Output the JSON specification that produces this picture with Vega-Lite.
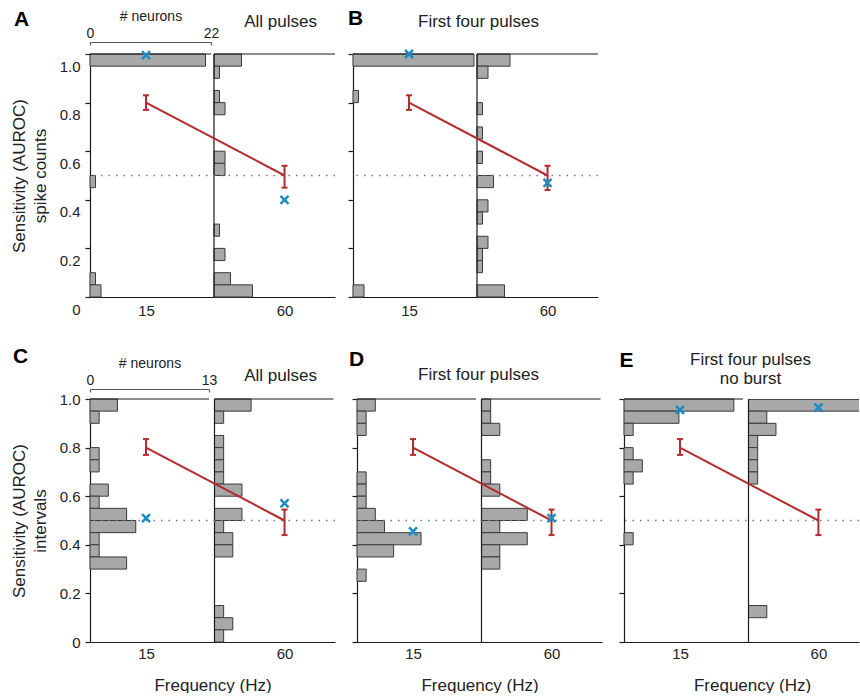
{
"$schema": "https://vega.github.io/schema/vega-lite/v6.json",
"padding": {"left": 10, "top": 7, "right": 0, "bottom": 0},
"config": {
 "view": {"stroke": null},
 "font": "Liberation Sans",
 "axis": {"grid": false, "domainColor": "#1a1a1a", "tickColor": "#1a1a1a", "labelColor": "#222222", "titleColor": "#222222", "labelFont": "Liberation Sans", "titleFont": "Liberation Sans", "titleFontWeight": "normal", "labelFlush": false, "labelOverlap": false, "domainWidth": 1.2, "tickWidth": 1.2}
},
"datasets": {
 "hist": [
  {"panel":"A","freq":15,"lo":1.0,"hi":1.05,"count":21},
  {"panel":"A","freq":15,"lo":0.5,"hi":0.55,"count":1},
  {"panel":"A","freq":15,"lo":0.1,"hi":0.15,"count":1},
  {"panel":"A","freq":15,"lo":0.05,"hi":0.1,"count":2},
  {"panel":"A","freq":60,"lo":1.0,"hi":1.05,"count":5},
  {"panel":"A","freq":60,"lo":0.95,"hi":1.0,"count":1},
  {"panel":"A","freq":60,"lo":0.85,"hi":0.9,"count":1},
  {"panel":"A","freq":60,"lo":0.8,"hi":0.85,"count":2},
  {"panel":"A","freq":60,"lo":0.6,"hi":0.65,"count":2},
  {"panel":"A","freq":60,"lo":0.55,"hi":0.6,"count":2},
  {"panel":"A","freq":60,"lo":0.3,"hi":0.35,"count":1},
  {"panel":"A","freq":60,"lo":0.2,"hi":0.25,"count":2},
  {"panel":"A","freq":60,"lo":0.1,"hi":0.15,"count":3},
  {"panel":"A","freq":60,"lo":0.05,"hi":0.1,"count":7},
  {"panel":"B","freq":15,"lo":1.0,"hi":1.05,"count":22},
  {"panel":"B","freq":15,"lo":0.85,"hi":0.9,"count":1},
  {"panel":"B","freq":15,"lo":0.05,"hi":0.1,"count":2},
  {"panel":"B","freq":60,"lo":1.0,"hi":1.05,"count":6},
  {"panel":"B","freq":60,"lo":0.95,"hi":1.0,"count":2},
  {"panel":"B","freq":60,"lo":0.8,"hi":0.85,"count":1},
  {"panel":"B","freq":60,"lo":0.7,"hi":0.75,"count":1},
  {"panel":"B","freq":60,"lo":0.6,"hi":0.65,"count":1},
  {"panel":"B","freq":60,"lo":0.5,"hi":0.55,"count":3},
  {"panel":"B","freq":60,"lo":0.4,"hi":0.45,"count":2},
  {"panel":"B","freq":60,"lo":0.35,"hi":0.4,"count":1},
  {"panel":"B","freq":60,"lo":0.25,"hi":0.3,"count":2},
  {"panel":"B","freq":60,"lo":0.2,"hi":0.25,"count":1},
  {"panel":"B","freq":60,"lo":0.15,"hi":0.2,"count":1},
  {"panel":"B","freq":60,"lo":0.05,"hi":0.1,"count":5},
  {"panel":"C","freq":15,"lo":0.95,"hi":1.0,"count":3},
  {"panel":"C","freq":15,"lo":0.9,"hi":0.95,"count":1},
  {"panel":"C","freq":15,"lo":0.75,"hi":0.8,"count":1},
  {"panel":"C","freq":15,"lo":0.7,"hi":0.75,"count":1},
  {"panel":"C","freq":15,"lo":0.6,"hi":0.65,"count":2},
  {"panel":"C","freq":15,"lo":0.55,"hi":0.6,"count":1},
  {"panel":"C","freq":15,"lo":0.5,"hi":0.55,"count":4},
  {"panel":"C","freq":15,"lo":0.45,"hi":0.5,"count":5},
  {"panel":"C","freq":15,"lo":0.4,"hi":0.45,"count":1},
  {"panel":"C","freq":15,"lo":0.35,"hi":0.4,"count":1},
  {"panel":"C","freq":15,"lo":0.3,"hi":0.35,"count":4},
  {"panel":"C","freq":60,"lo":0.95,"hi":1.0,"count":4},
  {"panel":"C","freq":60,"lo":0.9,"hi":0.95,"count":1},
  {"panel":"C","freq":60,"lo":0.8,"hi":0.85,"count":1},
  {"panel":"C","freq":60,"lo":0.75,"hi":0.8,"count":1},
  {"panel":"C","freq":60,"lo":0.7,"hi":0.75,"count":1},
  {"panel":"C","freq":60,"lo":0.65,"hi":0.7,"count":1},
  {"panel":"C","freq":60,"lo":0.6,"hi":0.65,"count":3},
  {"panel":"C","freq":60,"lo":0.5,"hi":0.55,"count":3},
  {"panel":"C","freq":60,"lo":0.45,"hi":0.5,"count":1},
  {"panel":"C","freq":60,"lo":0.4,"hi":0.45,"count":2},
  {"panel":"C","freq":60,"lo":0.35,"hi":0.4,"count":2},
  {"panel":"C","freq":60,"lo":0.1,"hi":0.15,"count":1},
  {"panel":"C","freq":60,"lo":0.05,"hi":0.1,"count":2},
  {"panel":"C","freq":60,"lo":0.0,"hi":0.05,"count":1},
  {"panel":"D","freq":15,"lo":0.95,"hi":1.0,"count":2},
  {"panel":"D","freq":15,"lo":0.9,"hi":0.95,"count":1},
  {"panel":"D","freq":15,"lo":0.85,"hi":0.9,"count":1},
  {"panel":"D","freq":15,"lo":0.65,"hi":0.7,"count":1},
  {"panel":"D","freq":15,"lo":0.6,"hi":0.65,"count":1},
  {"panel":"D","freq":15,"lo":0.55,"hi":0.6,"count":1},
  {"panel":"D","freq":15,"lo":0.5,"hi":0.55,"count":2},
  {"panel":"D","freq":15,"lo":0.45,"hi":0.5,"count":3},
  {"panel":"D","freq":15,"lo":0.4,"hi":0.45,"count":7},
  {"panel":"D","freq":15,"lo":0.35,"hi":0.4,"count":4},
  {"panel":"D","freq":15,"lo":0.25,"hi":0.3,"count":1},
  {"panel":"D","freq":60,"lo":0.95,"hi":1.0,"count":1},
  {"panel":"D","freq":60,"lo":0.9,"hi":0.95,"count":1},
  {"panel":"D","freq":60,"lo":0.85,"hi":0.9,"count":2},
  {"panel":"D","freq":60,"lo":0.7,"hi":0.75,"count":1},
  {"panel":"D","freq":60,"lo":0.65,"hi":0.7,"count":1},
  {"panel":"D","freq":60,"lo":0.6,"hi":0.65,"count":2},
  {"panel":"D","freq":60,"lo":0.5,"hi":0.55,"count":5},
  {"panel":"D","freq":60,"lo":0.45,"hi":0.5,"count":2},
  {"panel":"D","freq":60,"lo":0.4,"hi":0.45,"count":5},
  {"panel":"D","freq":60,"lo":0.35,"hi":0.4,"count":2},
  {"panel":"D","freq":60,"lo":0.3,"hi":0.35,"count":2},
  {"panel":"E","freq":15,"lo":0.95,"hi":1.0,"count":12},
  {"panel":"E","freq":15,"lo":0.9,"hi":0.95,"count":6},
  {"panel":"E","freq":15,"lo":0.85,"hi":0.9,"count":1},
  {"panel":"E","freq":15,"lo":0.75,"hi":0.8,"count":1},
  {"panel":"E","freq":15,"lo":0.7,"hi":0.75,"count":2},
  {"panel":"E","freq":15,"lo":0.65,"hi":0.7,"count":1},
  {"panel":"E","freq":15,"lo":0.4,"hi":0.45,"count":1},
  {"panel":"E","freq":60,"lo":0.95,"hi":1.0,"count":13},
  {"panel":"E","freq":60,"lo":0.9,"hi":0.95,"count":2},
  {"panel":"E","freq":60,"lo":0.85,"hi":0.9,"count":3},
  {"panel":"E","freq":60,"lo":0.8,"hi":0.85,"count":1},
  {"panel":"E","freq":60,"lo":0.75,"hi":0.8,"count":1},
  {"panel":"E","freq":60,"lo":0.7,"hi":0.75,"count":1},
  {"panel":"E","freq":60,"lo":0.65,"hi":0.7,"count":1},
  {"panel":"E","freq":60,"lo":0.1,"hi":0.15,"count":2}
 ],
 "means": [
  {"panel":"A","freq":15,"mean":0.85,"lo":0.82,"hi":0.88},
  {"panel":"A","freq":60,"mean":0.55,"lo":0.5,"hi":0.59},
  {"panel":"B","freq":15,"mean":0.85,"lo":0.82,"hi":0.88},
  {"panel":"B","freq":60,"mean":0.55,"lo":0.49,"hi":0.59},
  {"panel":"C","freq":15,"mean":0.8,"lo":0.77,"hi":0.835},
  {"panel":"C","freq":60,"mean":0.5,"lo":0.44,"hi":0.545},
  {"panel":"D","freq":15,"mean":0.8,"lo":0.77,"hi":0.835},
  {"panel":"D","freq":60,"mean":0.5,"lo":0.44,"hi":0.545},
  {"panel":"E","freq":15,"mean":0.8,"lo":0.77,"hi":0.835},
  {"panel":"E","freq":60,"mean":0.5,"lo":0.44,"hi":0.545}
 ],
 "peaks": [
  {"panel":"A","freq":15,"value":1.045},
  {"panel":"A","freq":60,"value":0.45},
  {"panel":"B","freq":15,"value":1.05},
  {"panel":"B","freq":60,"value":0.52},
  {"panel":"C","freq":15,"value":0.51},
  {"panel":"C","freq":60,"value":0.57},
  {"panel":"D","freq":15,"value":0.455},
  {"panel":"D","freq":60,"value":0.51},
  {"panel":"E","freq":15,"value":0.955},
  {"panel":"E","freq":60,"value":0.965}
 ]
},
"spacing": 27,
"vconcat": [
 {"hconcat": [
  {"width":245,"height":243,
   "resolve":{"scale":{"x":"independent"},"axis":{"x":"independent"}},
   "layer":[
    {"data":{"name":"hist"},"transform":[{"filter":"datum.panel=='A' && datum.freq==15"}],
     "mark":{"type":"rect","fill":"#a8a8a8","stroke":"#3a3a3a","strokeWidth":1},
     "encoding":{
      "x":{"field":"count","type":"quantitative","scale":{"domain":[0,22],"range":[0,121],"nice":false,"zero":false},
           "axis":{"orient":"top","values":[0,22],"offset":12,"tickSize":-3,"labelFontSize":14,"labelPadding":5,"title":"# neurons","titleFontSize":14,"titlePadding":3,"domainColor":"#555555","tickColor":"#555555"}},
      "x2":{"datum":0},
      "y":{"field":"lo","type":"quantitative","scale":{"domain":[0.05,1.05],"nice":false,"zero":false}},
      "y2":{"field":"hi"}}},
    {"data":{"name":"hist"},"transform":[{"filter":"datum.panel=='A' && datum.freq==60"}],
     "mark":{"type":"rect","fill":"#a8a8a8","stroke":"#3a3a3a","strokeWidth":1},
     "encoding":{
      "x":{"field":"count","type":"quantitative","scale":{"domain":[0,22],"range":[124,245],"nice":false,"zero":false},
           "axis":{"orient":"top","domain":false,"ticks":false,"labels":false,"title":"All pulses","titleFontSize":17,"titleX":190,"titleY":-33,"titleAlign":"center","titleBaseline":"middle","titleAngle":0}},
      "x2":{"datum":0},
      "y":{"field":"lo","type":"quantitative","scale":{"domain":[0.05,1.05],"nice":false,"zero":false}},
      "y2":{"field":"hi"}}},
    {"data":{"values":[{}]},"mark":{"type":"rule","color":"#1a1a1a","strokeWidth":1.2},
     "encoding":{"x":{"datum":0,"type":"quantitative","scale":{"domain":[0,22],"range":[124,245],"nice":false,"zero":false},"axis":null}}},
    {"data":{"values":[{}]},"mark":{"type":"rule","color":"#1a1a1a","strokeWidth":1.2},
     "encoding":{"x":{"datum":0,"type":"quantitative","scale":{"domain":[0,22],"range":[0,121],"nice":false,"zero":false},"axis":null},"x2":{"datum":22},
      "y":{"datum":1.05,"type":"quantitative","scale":{"domain":[0.05,1.05],"nice":false,"zero":false}}}},
    {"data":{"values":[{}]},"mark":{"type":"rule","color":"#1a1a1a","strokeWidth":1.2},
     "encoding":{"x":{"datum":0,"type":"quantitative","scale":{"domain":[0,22],"range":[124,245],"nice":false,"zero":false},"axis":null},"x2":{"datum":22},
      "y":{"datum":1.05,"type":"quantitative","scale":{"domain":[0.05,1.05],"nice":false,"zero":false}}}},
    {"data":{"values":[{}]},"mark":{"type":"rule","color":"#777777","strokeWidth":1.3,"strokeDash":[1.5,6]},
     "encoding":{"y":{"datum":0.55,"type":"quantitative","scale":{"domain":[0.05,1.05],"nice":false,"zero":false}}}},
    {"data":{"name":"means"},"transform":[{"filter":"datum.panel=='A'"}],
     "mark":{"type":"line","color":"#b22b2e","strokeWidth":2},
     "encoding":{
      "x":{"field":"freq","type":"quantitative","scale":{"domain":[-3.2,76.4],"nice":false,"zero":false},
           "axis":{"orient":"bottom","values":[15,60],"ticks":false,"labelFontSize":15,"labelPadding":6,"title":null}},
      "y":{"field":"mean","type":"quantitative","scale":{"domain":[0.05,1.05],"nice":false,"zero":false},
           "axis":{"orient":"left","values":[0.05,0.15,0.25,0.35,0.45,0.55,0.65,0.75,0.85,0.95,1.05],"labelExpr":"(round(datum.value*100)-5)%20==0 ? (datum.value<0.1 ? '0' : format(datum.value-0.05,'.1f')) : ''","labelOffset":12,"tickSize":5,"labelFontSize":15,"labelPadding":5,"title":["Sensitivity (AUROC)","spike counts"],"titleFontSize":17,"titlePadding":10,"titleLineHeight":21}}}},
    {"data":{"name":"means"},"transform":[{"filter":"datum.panel=='A'"}],
     "mark":{"type":"rule","color":"#b22b2e","strokeWidth":2},
     "encoding":{
      "x":{"field":"freq","type":"quantitative","scale":{"domain":[-3.2,76.4],"nice":false,"zero":false},
           "axis":{"orient":"top","domain":false,"ticks":false,"labels":false,"title":"A","titleFontSize":21,"titleFontWeight":"bold","titleColor":"#000000","titleX":-69,"titleY":-35,"titleAlign":"center","titleBaseline":"middle","titleAngle":0}},
      "y":{"field":"lo","type":"quantitative","scale":{"domain":[0.05,1.05],"nice":false,"zero":false}},
      "y2":{"field":"hi"}}},
    {"data":{"name":"means"},"transform":[{"filter":"datum.panel=='A'"}],
     "mark":{"type":"tick","orient":"horizontal","color":"#b22b2e","size":6,"thickness":2,"opacity":1},
     "encoding":{"x":{"field":"freq","type":"quantitative","scale":{"domain":[-3.2,76.4],"nice":false,"zero":false},"axis":null},
      "y":{"field":"lo","type":"quantitative","scale":{"domain":[0.05,1.05],"nice":false,"zero":false}}}},
    {"data":{"name":"means"},"transform":[{"filter":"datum.panel=='A'"}],
     "mark":{"type":"tick","orient":"horizontal","color":"#b22b2e","size":6,"thickness":2,"opacity":1},
     "encoding":{"x":{"field":"freq","type":"quantitative","scale":{"domain":[-3.2,76.4],"nice":false,"zero":false},"axis":null},
      "y":{"field":"hi","type":"quantitative","scale":{"domain":[0.05,1.05],"nice":false,"zero":false}}}},
    {"data":{"name":"peaks"},"transform":[{"filter":"datum.panel=='A'"}],
     "mark":{"type":"point","shape":"M-1,-1L1,1M-1,1L1,-1","size":64,"filled":false,"stroke":"#1a8cc6","strokeWidth":2.5,"opacity":1},
     "encoding":{"x":{"field":"freq","type":"quantitative","scale":{"domain":[-3.2,76.4],"nice":false,"zero":false},"axis":null},
      "y":{"field":"value","type":"quantitative","scale":{"domain":[0.05,1.05],"nice":false,"zero":false}}}}
   ]},
  {"width":245,"height":243,
   "resolve":{"scale":{"x":"independent"},"axis":{"x":"independent"}},
   "layer":[
    {"data":{"name":"hist"},"transform":[{"filter":"datum.panel=='B' && datum.freq==15"}],
     "mark":{"type":"rect","fill":"#a8a8a8","stroke":"#3a3a3a","strokeWidth":1},
     "encoding":{
      "x":{"field":"count","type":"quantitative","scale":{"domain":[0,22],"range":[0,121],"nice":false,"zero":false},"axis":null},
      "x2":{"datum":0},
      "y":{"field":"lo","type":"quantitative","scale":{"domain":[0.05,1.05],"nice":false,"zero":false}},
      "y2":{"field":"hi"}}},
    {"data":{"name":"hist"},"transform":[{"filter":"datum.panel=='B' && datum.freq==60"}],
     "mark":{"type":"rect","fill":"#a8a8a8","stroke":"#3a3a3a","strokeWidth":1},
     "encoding":{
      "x":{"field":"count","type":"quantitative","scale":{"domain":[0,22],"range":[124,245],"nice":false,"zero":false},
           "axis":{"orient":"top","domain":false,"ticks":false,"labels":false,"title":"First four pulses","titleFontSize":17,"titleX":125,"titleY":-33,"titleAlign":"center","titleBaseline":"middle","titleAngle":0}},
      "x2":{"datum":0},
      "y":{"field":"lo","type":"quantitative","scale":{"domain":[0.05,1.05],"nice":false,"zero":false}},
      "y2":{"field":"hi"}}},
    {"data":{"values":[{}]},"mark":{"type":"rule","color":"#1a1a1a","strokeWidth":1.2},
     "encoding":{"x":{"datum":0,"type":"quantitative","scale":{"domain":[0,22],"range":[124,245],"nice":false,"zero":false},"axis":null}}},
    {"data":{"values":[{}]},"mark":{"type":"rule","color":"#1a1a1a","strokeWidth":1.2},
     "encoding":{"x":{"datum":0,"type":"quantitative","scale":{"domain":[0,22],"range":[0,121],"nice":false,"zero":false},"axis":null},"x2":{"datum":22},
      "y":{"datum":1.05,"type":"quantitative","scale":{"domain":[0.05,1.05],"nice":false,"zero":false}}}},
    {"data":{"values":[{}]},"mark":{"type":"rule","color":"#1a1a1a","strokeWidth":1.2},
     "encoding":{"x":{"datum":0,"type":"quantitative","scale":{"domain":[0,22],"range":[124,245],"nice":false,"zero":false},"axis":null},"x2":{"datum":22},
      "y":{"datum":1.05,"type":"quantitative","scale":{"domain":[0.05,1.05],"nice":false,"zero":false}}}},
    {"data":{"values":[{}]},"mark":{"type":"rule","color":"#777777","strokeWidth":1.3,"strokeDash":[1.5,6]},
     "encoding":{"y":{"datum":0.55,"type":"quantitative","scale":{"domain":[0.05,1.05],"nice":false,"zero":false}}}},
    {"data":{"name":"means"},"transform":[{"filter":"datum.panel=='B'"}],
     "mark":{"type":"line","color":"#b22b2e","strokeWidth":2},
     "encoding":{
      "x":{"field":"freq","type":"quantitative","scale":{"domain":[-3.2,76.4],"nice":false,"zero":false},
           "axis":{"orient":"bottom","values":[15,60],"ticks":false,"labelFontSize":15,"labelPadding":6,"title":null}},
      "y":{"field":"mean","type":"quantitative","scale":{"domain":[0.05,1.05],"nice":false,"zero":false},
           "axis":{"orient":"left","values":[0.05,0.15,0.25,0.35,0.45,0.55,0.65,0.75,0.85,0.95,1.05],"labels":false,"tickSize":5,"title":null}}}},
    {"data":{"name":"means"},"transform":[{"filter":"datum.panel=='B'"}],
     "mark":{"type":"rule","color":"#b22b2e","strokeWidth":2},
     "encoding":{
      "x":{"field":"freq","type":"quantitative","scale":{"domain":[-3.2,76.4],"nice":false,"zero":false},
           "axis":{"orient":"top","domain":false,"ticks":false,"labels":false,"title":"B","titleFontSize":21,"titleFontWeight":"bold","titleColor":"#000000","titleX":2,"titleY":-36,"titleAlign":"center","titleBaseline":"middle","titleAngle":0}},
      "y":{"field":"lo","type":"quantitative","scale":{"domain":[0.05,1.05],"nice":false,"zero":false}},
      "y2":{"field":"hi"}}},
    {"data":{"name":"means"},"transform":[{"filter":"datum.panel=='B'"}],
     "mark":{"type":"tick","orient":"horizontal","color":"#b22b2e","size":6,"thickness":2,"opacity":1},
     "encoding":{"x":{"field":"freq","type":"quantitative","scale":{"domain":[-3.2,76.4],"nice":false,"zero":false},"axis":null},
      "y":{"field":"lo","type":"quantitative","scale":{"domain":[0.05,1.05],"nice":false,"zero":false}}}},
    {"data":{"name":"means"},"transform":[{"filter":"datum.panel=='B'"}],
     "mark":{"type":"tick","orient":"horizontal","color":"#b22b2e","size":6,"thickness":2,"opacity":1},
     "encoding":{"x":{"field":"freq","type":"quantitative","scale":{"domain":[-3.2,76.4],"nice":false,"zero":false},"axis":null},
      "y":{"field":"hi","type":"quantitative","scale":{"domain":[0.05,1.05],"nice":false,"zero":false}}}},
    {"data":{"name":"peaks"},"transform":[{"filter":"datum.panel=='B'"}],
     "mark":{"type":"point","shape":"M-1,-1L1,1M-1,1L1,-1","size":64,"filled":false,"stroke":"#1a8cc6","strokeWidth":2.5,"opacity":1},
     "encoding":{"x":{"field":"freq","type":"quantitative","scale":{"domain":[-3.2,76.4],"nice":false,"zero":false},"axis":null},
      "y":{"field":"value","type":"quantitative","scale":{"domain":[0.05,1.05],"nice":false,"zero":false}}}}
   ]}
 ], "spacing": 18, "bounds": "flush"},
 {"hconcat": [
  {"width":245,"height":243,
   "resolve":{"scale":{"x":"independent"},"axis":{"x":"independent"}},
   "layer":[
    {"data":{"name":"hist"},"transform":[{"filter":"datum.panel=='C' && datum.freq==15"}],
     "mark":{"type":"rect","fill":"#a8a8a8","stroke":"#3a3a3a","strokeWidth":1},
     "encoding":{
      "x":{"field":"count","type":"quantitative","scale":{"domain":[0,13],"range":[0,119],"nice":false,"zero":false},
           "axis":{"orient":"top","values":[0,13],"offset":10,"tickSize":-3,"labelFontSize":14,"labelPadding":5,"title":"# neurons","titleFontSize":14,"titlePadding":3,"domainColor":"#555555","tickColor":"#555555"}},
      "x2":{"datum":0},
      "y":{"field":"lo","type":"quantitative","scale":{"domain":[0,1],"nice":false,"zero":false}},
      "y2":{"field":"hi"}}},
    {"data":{"name":"hist"},"transform":[{"filter":"datum.panel=='C' && datum.freq==60"}],
     "mark":{"type":"rect","fill":"#a8a8a8","stroke":"#3a3a3a","strokeWidth":1},
     "encoding":{
      "x":{"field":"count","type":"quantitative","scale":{"domain":[0,13],"range":[124.5,243.5],"nice":false,"zero":false},
           "axis":{"orient":"top","domain":false,"ticks":false,"labels":false,"title":"All pulses","titleFontSize":17,"titleX":190,"titleY":-24,"titleAlign":"center","titleBaseline":"middle","titleAngle":0}},
      "x2":{"datum":0},
      "y":{"field":"lo","type":"quantitative","scale":{"domain":[0,1],"nice":false,"zero":false}},
      "y2":{"field":"hi"}}},
    {"data":{"values":[{}]},"mark":{"type":"rule","color":"#1a1a1a","strokeWidth":1.2},
     "encoding":{"x":{"datum":0,"type":"quantitative","scale":{"domain":[0,13],"range":[124.5,243.5],"nice":false,"zero":false},"axis":null}}},
    {"data":{"values":[{}]},"mark":{"type":"rule","color":"#1a1a1a","strokeWidth":1.2},
     "encoding":{"x":{"datum":0,"type":"quantitative","scale":{"domain":[0,13],"range":[0,119],"nice":false,"zero":false},"axis":null},"x2":{"datum":13},
      "y":{"datum":1,"type":"quantitative","scale":{"domain":[0,1],"nice":false,"zero":false}}}},
    {"data":{"values":[{}]},"mark":{"type":"rule","color":"#1a1a1a","strokeWidth":1.2},
     "encoding":{"x":{"datum":0,"type":"quantitative","scale":{"domain":[0,13],"range":[124.5,243.5],"nice":false,"zero":false},"axis":null},"x2":{"datum":13},
      "y":{"datum":1,"type":"quantitative","scale":{"domain":[0,1],"nice":false,"zero":false}}}},
    {"data":{"values":[{}]},"mark":{"type":"rule","color":"#777777","strokeWidth":1.3,"strokeDash":[1.5,6]},
     "encoding":{"y":{"datum":0.5,"type":"quantitative","scale":{"domain":[0,1],"nice":false,"zero":false}}}},
    {"data":{"name":"means"},"transform":[{"filter":"datum.panel=='C'"}],
     "mark":{"type":"line","color":"#b22b2e","strokeWidth":2},
     "encoding":{
      "x":{"field":"freq","type":"quantitative","scale":{"domain":[-3.2,76.4],"nice":false,"zero":false},
           "axis":{"orient":"bottom","values":[15,60],"ticks":false,"labelFontSize":15,"labelPadding":4,"title":"Frequency (Hz)","titleFontSize":17,"titlePadding":16}},
      "y":{"field":"mean","type":"quantitative","scale":{"domain":[0,1],"nice":false,"zero":false},
           "axis":{"orient":"left","values":[0,0.1,0.2,0.3,0.4,0.5,0.6,0.7,0.8,0.9,1],"labelExpr":"round(datum.value*10)%2==0 ? (datum.value==0 ? '0' : format(datum.value,'.1f')) : ''","tickSize":5,"labelFontSize":15,"labelPadding":5,"title":["Sensitivity (AUROC)","intervals"],"titleFontSize":17,"titlePadding":10,"titleLineHeight":21}}}},
    {"data":{"name":"means"},"transform":[{"filter":"datum.panel=='C'"}],
     "mark":{"type":"rule","color":"#b22b2e","strokeWidth":2},
     "encoding":{
      "x":{"field":"freq","type":"quantitative","scale":{"domain":[-3.2,76.4],"nice":false,"zero":false},
           "axis":{"orient":"top","domain":false,"ticks":false,"labels":false,"title":"C","titleFontSize":21,"titleFontWeight":"bold","titleColor":"#000000","titleX":-70,"titleY":-43,"titleAlign":"center","titleBaseline":"middle","titleAngle":0}},
      "y":{"field":"lo","type":"quantitative","scale":{"domain":[0,1],"nice":false,"zero":false}},
      "y2":{"field":"hi"}}},
    {"data":{"name":"means"},"transform":[{"filter":"datum.panel=='C'"}],
     "mark":{"type":"tick","orient":"horizontal","color":"#b22b2e","size":6,"thickness":2,"opacity":1},
     "encoding":{"x":{"field":"freq","type":"quantitative","scale":{"domain":[-3.2,76.4],"nice":false,"zero":false},"axis":null},
      "y":{"field":"lo","type":"quantitative","scale":{"domain":[0,1],"nice":false,"zero":false}}}},
    {"data":{"name":"means"},"transform":[{"filter":"datum.panel=='C'"}],
     "mark":{"type":"tick","orient":"horizontal","color":"#b22b2e","size":6,"thickness":2,"opacity":1},
     "encoding":{"x":{"field":"freq","type":"quantitative","scale":{"domain":[-3.2,76.4],"nice":false,"zero":false},"axis":null},
      "y":{"field":"hi","type":"quantitative","scale":{"domain":[0,1],"nice":false,"zero":false}}}},
    {"data":{"name":"peaks"},"transform":[{"filter":"datum.panel=='C'"}],
     "mark":{"type":"point","shape":"M-1,-1L1,1M-1,1L1,-1","size":64,"filled":false,"stroke":"#1a8cc6","strokeWidth":2.5,"opacity":1},
     "encoding":{"x":{"field":"freq","type":"quantitative","scale":{"domain":[-3.2,76.4],"nice":false,"zero":false},"axis":null},
      "y":{"field":"value","type":"quantitative","scale":{"domain":[0,1],"nice":false,"zero":false}}}}
   ]},
  {"width":245,"height":243,
   "resolve":{"scale":{"x":"independent"},"axis":{"x":"independent"}},
   "layer":[
    {"data":{"name":"hist"},"transform":[{"filter":"datum.panel=='D' && datum.freq==15"}],
     "mark":{"type":"rect","fill":"#a8a8a8","stroke":"#3a3a3a","strokeWidth":1},
     "encoding":{
      "x":{"field":"count","type":"quantitative","scale":{"domain":[0,13],"range":[0,119],"nice":false,"zero":false},"axis":null},
      "x2":{"datum":0},
      "y":{"field":"lo","type":"quantitative","scale":{"domain":[0,1],"nice":false,"zero":false}},
      "y2":{"field":"hi"}}},
    {"data":{"name":"hist"},"transform":[{"filter":"datum.panel=='D' && datum.freq==60"}],
     "mark":{"type":"rect","fill":"#a8a8a8","stroke":"#3a3a3a","strokeWidth":1},
     "encoding":{
      "x":{"field":"count","type":"quantitative","scale":{"domain":[0,13],"range":[124.5,243.5],"nice":false,"zero":false},
           "axis":{"orient":"top","domain":false,"ticks":false,"labels":false,"title":"First four pulses","titleFontSize":17,"titleX":121,"titleY":-25,"titleAlign":"center","titleBaseline":"middle","titleAngle":0}},
      "x2":{"datum":0},
      "y":{"field":"lo","type":"quantitative","scale":{"domain":[0,1],"nice":false,"zero":false}},
      "y2":{"field":"hi"}}},
    {"data":{"values":[{}]},"mark":{"type":"rule","color":"#1a1a1a","strokeWidth":1.2},
     "encoding":{"x":{"datum":0,"type":"quantitative","scale":{"domain":[0,13],"range":[124.5,243.5],"nice":false,"zero":false},"axis":null}}},
    {"data":{"values":[{}]},"mark":{"type":"rule","color":"#1a1a1a","strokeWidth":1.2},
     "encoding":{"x":{"datum":0,"type":"quantitative","scale":{"domain":[0,13],"range":[0,119],"nice":false,"zero":false},"axis":null},"x2":{"datum":13},
      "y":{"datum":1,"type":"quantitative","scale":{"domain":[0,1],"nice":false,"zero":false}}}},
    {"data":{"values":[{}]},"mark":{"type":"rule","color":"#1a1a1a","strokeWidth":1.2},
     "encoding":{"x":{"datum":0,"type":"quantitative","scale":{"domain":[0,13],"range":[124.5,243.5],"nice":false,"zero":false},"axis":null},"x2":{"datum":13},
      "y":{"datum":1,"type":"quantitative","scale":{"domain":[0,1],"nice":false,"zero":false}}}},
    {"data":{"values":[{}]},"mark":{"type":"rule","color":"#777777","strokeWidth":1.3,"strokeDash":[1.5,6]},
     "encoding":{"y":{"datum":0.5,"type":"quantitative","scale":{"domain":[0,1],"nice":false,"zero":false}}}},
    {"data":{"name":"means"},"transform":[{"filter":"datum.panel=='D'"}],
     "mark":{"type":"line","color":"#b22b2e","strokeWidth":2},
     "encoding":{
      "x":{"field":"freq","type":"quantitative","scale":{"domain":[-3.2,76.4],"nice":false,"zero":false},
           "axis":{"orient":"bottom","values":[15,60],"ticks":false,"labelFontSize":15,"labelPadding":4,"title":"Frequency (Hz)","titleFontSize":17,"titlePadding":16}},
      "y":{"field":"mean","type":"quantitative","scale":{"domain":[0,1],"nice":false,"zero":false},
           "axis":{"orient":"left","values":[0,0.1,0.2,0.3,0.4,0.5,0.6,0.7,0.8,0.9,1],"labels":false,"tickSize":5,"title":null}}}},
    {"data":{"name":"means"},"transform":[{"filter":"datum.panel=='D'"}],
     "mark":{"type":"rule","color":"#b22b2e","strokeWidth":2},
     "encoding":{
      "x":{"field":"freq","type":"quantitative","scale":{"domain":[-3.2,76.4],"nice":false,"zero":false},
           "axis":{"orient":"top","domain":false,"ticks":false,"labels":false,"title":"D","titleFontSize":21,"titleFontWeight":"bold","titleColor":"#000000","titleX":-1,"titleY":-40,"titleAlign":"center","titleBaseline":"middle","titleAngle":0}},
      "y":{"field":"lo","type":"quantitative","scale":{"domain":[0,1],"nice":false,"zero":false}},
      "y2":{"field":"hi"}}},
    {"data":{"name":"means"},"transform":[{"filter":"datum.panel=='D'"}],
     "mark":{"type":"tick","orient":"horizontal","color":"#b22b2e","size":6,"thickness":2,"opacity":1},
     "encoding":{"x":{"field":"freq","type":"quantitative","scale":{"domain":[-3.2,76.4],"nice":false,"zero":false},"axis":null},
      "y":{"field":"lo","type":"quantitative","scale":{"domain":[0,1],"nice":false,"zero":false}}}},
    {"data":{"name":"means"},"transform":[{"filter":"datum.panel=='D'"}],
     "mark":{"type":"tick","orient":"horizontal","color":"#b22b2e","size":6,"thickness":2,"opacity":1},
     "encoding":{"x":{"field":"freq","type":"quantitative","scale":{"domain":[-3.2,76.4],"nice":false,"zero":false},"axis":null},
      "y":{"field":"hi","type":"quantitative","scale":{"domain":[0,1],"nice":false,"zero":false}}}},
    {"data":{"name":"peaks"},"transform":[{"filter":"datum.panel=='D'"}],
     "mark":{"type":"point","shape":"M-1,-1L1,1M-1,1L1,-1","size":64,"filled":false,"stroke":"#1a8cc6","strokeWidth":2.5,"opacity":1},
     "encoding":{"x":{"field":"freq","type":"quantitative","scale":{"domain":[-3.2,76.4],"nice":false,"zero":false},"axis":null},
      "y":{"field":"value","type":"quantitative","scale":{"domain":[0,1],"nice":false,"zero":false}}}}
   ]},
  {"width":235,"height":243,
   "resolve":{"scale":{"x":"independent"},"axis":{"x":"independent"}},
   "layer":[
    {"data":{"name":"hist"},"transform":[{"filter":"datum.panel=='E' && datum.freq==15"}],
     "mark":{"type":"rect","fill":"#a8a8a8","stroke":"#3a3a3a","strokeWidth":1},
     "encoding":{
      "x":{"field":"count","type":"quantitative","scale":{"domain":[0,13],"range":[0,119],"nice":false,"zero":false},"axis":null},
      "x2":{"datum":0},
      "y":{"field":"lo","type":"quantitative","scale":{"domain":[0,1],"nice":false,"zero":false}},
      "y2":{"field":"hi"}}},
    {"data":{"name":"hist"},"transform":[{"filter":"datum.panel=='E' && datum.freq==60"}],
     "mark":{"type":"rect","fill":"#a8a8a8","stroke":"#3a3a3a","strokeWidth":1,"clip":true},
     "encoding":{
      "x":{"field":"count","type":"quantitative","scale":{"domain":[0,13],"range":[124.5,243.5],"nice":false,"zero":false},
           "axis":{"orient":"top","domain":false,"ticks":false,"labels":false,"title":["First four pulses","no burst"],"titleFontSize":17,"titleLineHeight":19,"titleX":126,"titleY":-40,"titleAlign":"center","titleBaseline":"middle","titleAngle":0}},
      "x2":{"datum":0},
      "y":{"field":"lo","type":"quantitative","scale":{"domain":[0,1],"nice":false,"zero":false}},
      "y2":{"field":"hi"}}},
    {"data":{"values":[{}]},"mark":{"type":"rule","color":"#1a1a1a","strokeWidth":1.2},
     "encoding":{"x":{"datum":0,"type":"quantitative","scale":{"domain":[0,13],"range":[124.5,243.5],"nice":false,"zero":false},"axis":null}}},
    {"data":{"values":[{}]},"mark":{"type":"rule","color":"#1a1a1a","strokeWidth":1.2},
     "encoding":{"x":{"datum":0,"type":"quantitative","scale":{"domain":[0,13],"range":[0,119],"nice":false,"zero":false},"axis":null},"x2":{"datum":13},
      "y":{"datum":1,"type":"quantitative","scale":{"domain":[0,1],"nice":false,"zero":false}}}},
    {"data":{"values":[{}]},"mark":{"type":"rule","color":"#1a1a1a","strokeWidth":1.2,"clip":true},
     "encoding":{"x":{"datum":0,"type":"quantitative","scale":{"domain":[0,13],"range":[124.5,243.5],"nice":false,"zero":false},"axis":null},"x2":{"datum":13},
      "y":{"datum":1,"type":"quantitative","scale":{"domain":[0,1],"nice":false,"zero":false}}}},
    {"data":{"values":[{}]},"mark":{"type":"rule","color":"#777777","strokeWidth":1.3,"strokeDash":[1.5,6]},
     "encoding":{"y":{"datum":0.5,"type":"quantitative","scale":{"domain":[0,1],"nice":false,"zero":false}}}},
    {"data":{"name":"means"},"transform":[{"filter":"datum.panel=='E'"}],
     "mark":{"type":"line","color":"#b22b2e","strokeWidth":2},
     "encoding":{
      "x":{"field":"freq","type":"quantitative","scale":{"domain":[-3.2,73.2],"nice":false,"zero":false},
           "axis":{"orient":"bottom","values":[15,60],"ticks":false,"labelFontSize":15,"labelPadding":4,"title":"Frequency (Hz)","titleFontSize":17,"titlePadding":16,"titleX":128}},
      "y":{"field":"mean","type":"quantitative","scale":{"domain":[0,1],"nice":false,"zero":false},
           "axis":{"orient":"left","values":[0,0.1,0.2,0.3,0.4,0.5,0.6,0.7,0.8,0.9,1],"labels":false,"tickSize":5,"title":null}}}},
    {"data":{"name":"means"},"transform":[{"filter":"datum.panel=='E'"}],
     "mark":{"type":"rule","color":"#b22b2e","strokeWidth":2},
     "encoding":{
      "x":{"field":"freq","type":"quantitative","scale":{"domain":[-3.2,73.2],"nice":false,"zero":false},
           "axis":{"orient":"top","domain":false,"ticks":false,"labels":false,"title":"E","titleFontSize":21,"titleFontWeight":"bold","titleColor":"#000000","titleX":2,"titleY":-39,"titleAlign":"center","titleBaseline":"middle","titleAngle":0}},
      "y":{"field":"lo","type":"quantitative","scale":{"domain":[0,1],"nice":false,"zero":false}},
      "y2":{"field":"hi"}}},
    {"data":{"name":"means"},"transform":[{"filter":"datum.panel=='E'"}],
     "mark":{"type":"tick","orient":"horizontal","color":"#b22b2e","size":6,"thickness":2,"opacity":1},
     "encoding":{"x":{"field":"freq","type":"quantitative","scale":{"domain":[-3.2,73.2],"nice":false,"zero":false},"axis":null},
      "y":{"field":"lo","type":"quantitative","scale":{"domain":[0,1],"nice":false,"zero":false}}}},
    {"data":{"name":"means"},"transform":[{"filter":"datum.panel=='E'"}],
     "mark":{"type":"tick","orient":"horizontal","color":"#b22b2e","size":6,"thickness":2,"opacity":1},
     "encoding":{"x":{"field":"freq","type":"quantitative","scale":{"domain":[-3.2,73.2],"nice":false,"zero":false},"axis":null},
      "y":{"field":"hi","type":"quantitative","scale":{"domain":[0,1],"nice":false,"zero":false}}}},
    {"data":{"name":"peaks"},"transform":[{"filter":"datum.panel=='E'"}],
     "mark":{"type":"point","shape":"M-1,-1L1,1M-1,1L1,-1","size":64,"filled":false,"stroke":"#1a8cc6","strokeWidth":2.5,"opacity":1},
     "encoding":{"x":{"field":"freq","type":"quantitative","scale":{"domain":[-3.2,73.2],"nice":false,"zero":false},"axis":null},
      "y":{"field":"value","type":"quantitative","scale":{"domain":[0,1],"nice":false,"zero":false}}}}
   ]}
 ], "spacing": 22, "bounds": "flush"}
]
}
